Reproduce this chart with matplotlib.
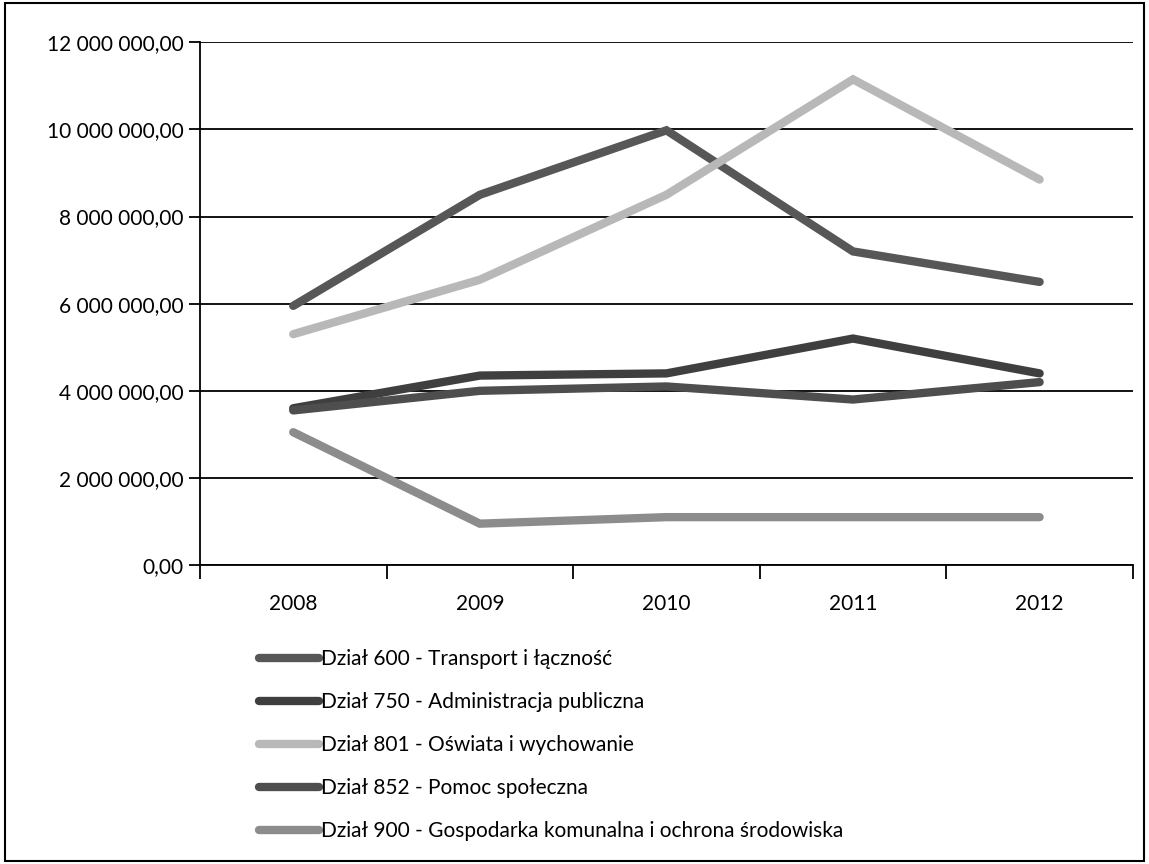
import matplotlib.pyplot as plt
from matplotlib.patches import Rectangle
from matplotlib.ticker import FuncFormatter, FixedLocator

# dane
years = ['2008', '2009', '2010', '2011', '2012']
dzial_600 = [5.95e6, 8.5e6, 9.98e6, 7.2e6, 6.5e6]
dzial_750 = [3.6e6, 4.35e6, 4.4e6, 5.2e6, 4.4e6]
dzial_801 = [5.3e6, 6.55e6, 8.5e6, 11.15e6, 8.85e6]
dzial_852 = [3.55e6, 4.0e6, 4.1e6, 3.8e6, 4.2e6]
dzial_900 = [3.05e6, 0.95e6, 1.1e6, 1.1e6, 1.1e6]

labels = ['Dział 600 - Transport i łączność',
          'Dział 750 - Administracja publiczna',
          'Dział 801 - Oświata i wychowanie',
          'Dział 852 - Pomoc społeczna',
          'Dział 900 - Gospodarka komunalna i ochrona środowiska']
series = [dzial_600, dzial_750, dzial_801, dzial_852, dzial_900]
colors = ['#575757', '#3f3f3f', '#b8b8b8', '#4e4e4e', '#8c8c8c']

plt.rcParams['font.family'] = ['Lato', 'DejaVu Sans']

fig = plt.figure(figsize=(11.49, 8.64), dpi=100)
ax = fig.add_axes([0.174, 0.346, 0.812, 0.605])

x = list(range(len(years)))
for vals, lab, c in zip(series, labels, colors):
    ax.plot(x, vals, color=c, linewidth=6, label=lab, solid_capstyle='round',
            solid_joinstyle='miter')

ax.set_ylim(0, 12e6)
ax.set_xlim(-0.5, len(years) - 0.5)
ax.set_yticks([0, 2e6, 4e6, 6e6, 8e6, 10e6, 12e6])


def fmt(v, pos):
    s = f'{int(round(v)):,}'.replace(',', ' ')
    return s + ',00'


ax.yaxis.set_major_formatter(FuncFormatter(fmt))
ax.grid(axis='y', color='black', linewidth=1.3)
ax.set_axisbelow(True)

# ticks between categories, labels at centres
ax.xaxis.set_major_locator(FixedLocator([i - 0.5 for i in range(len(years) + 1)]))
ax.xaxis.set_minor_locator(FixedLocator(x))
ax.set_xticklabels([])
ax.set_xticklabels(years, minor=True)
ax.tick_params(axis='x', which='major', length=10, width=1.3, direction='out')
ax.tick_params(axis='x', which='minor', length=0, pad=21, labelsize=15)
ax.tick_params(axis='y', length=8, width=1.3, labelsize=15, pad=4)

for s in ['top', 'right']:
    ax.spines[s].set_visible(False)
for s in ['left', 'bottom']:
    ax.spines[s].set_linewidth(1.3)

fig.legend(loc='upper left', bbox_to_anchor=(0.218, 0.258), frameon=False,
           fontsize=15, handlelength=2.9, handletextpad=0.1, labelspacing=1.1,
           borderaxespad=0)

fig.patches.append(Rectangle((0.004, 0.004), 0.992, 0.992, transform=fig.transFigure,
                             fill=False, edgecolor='black', linewidth=1.5))

plt.savefig('out.png', dpi=100)
